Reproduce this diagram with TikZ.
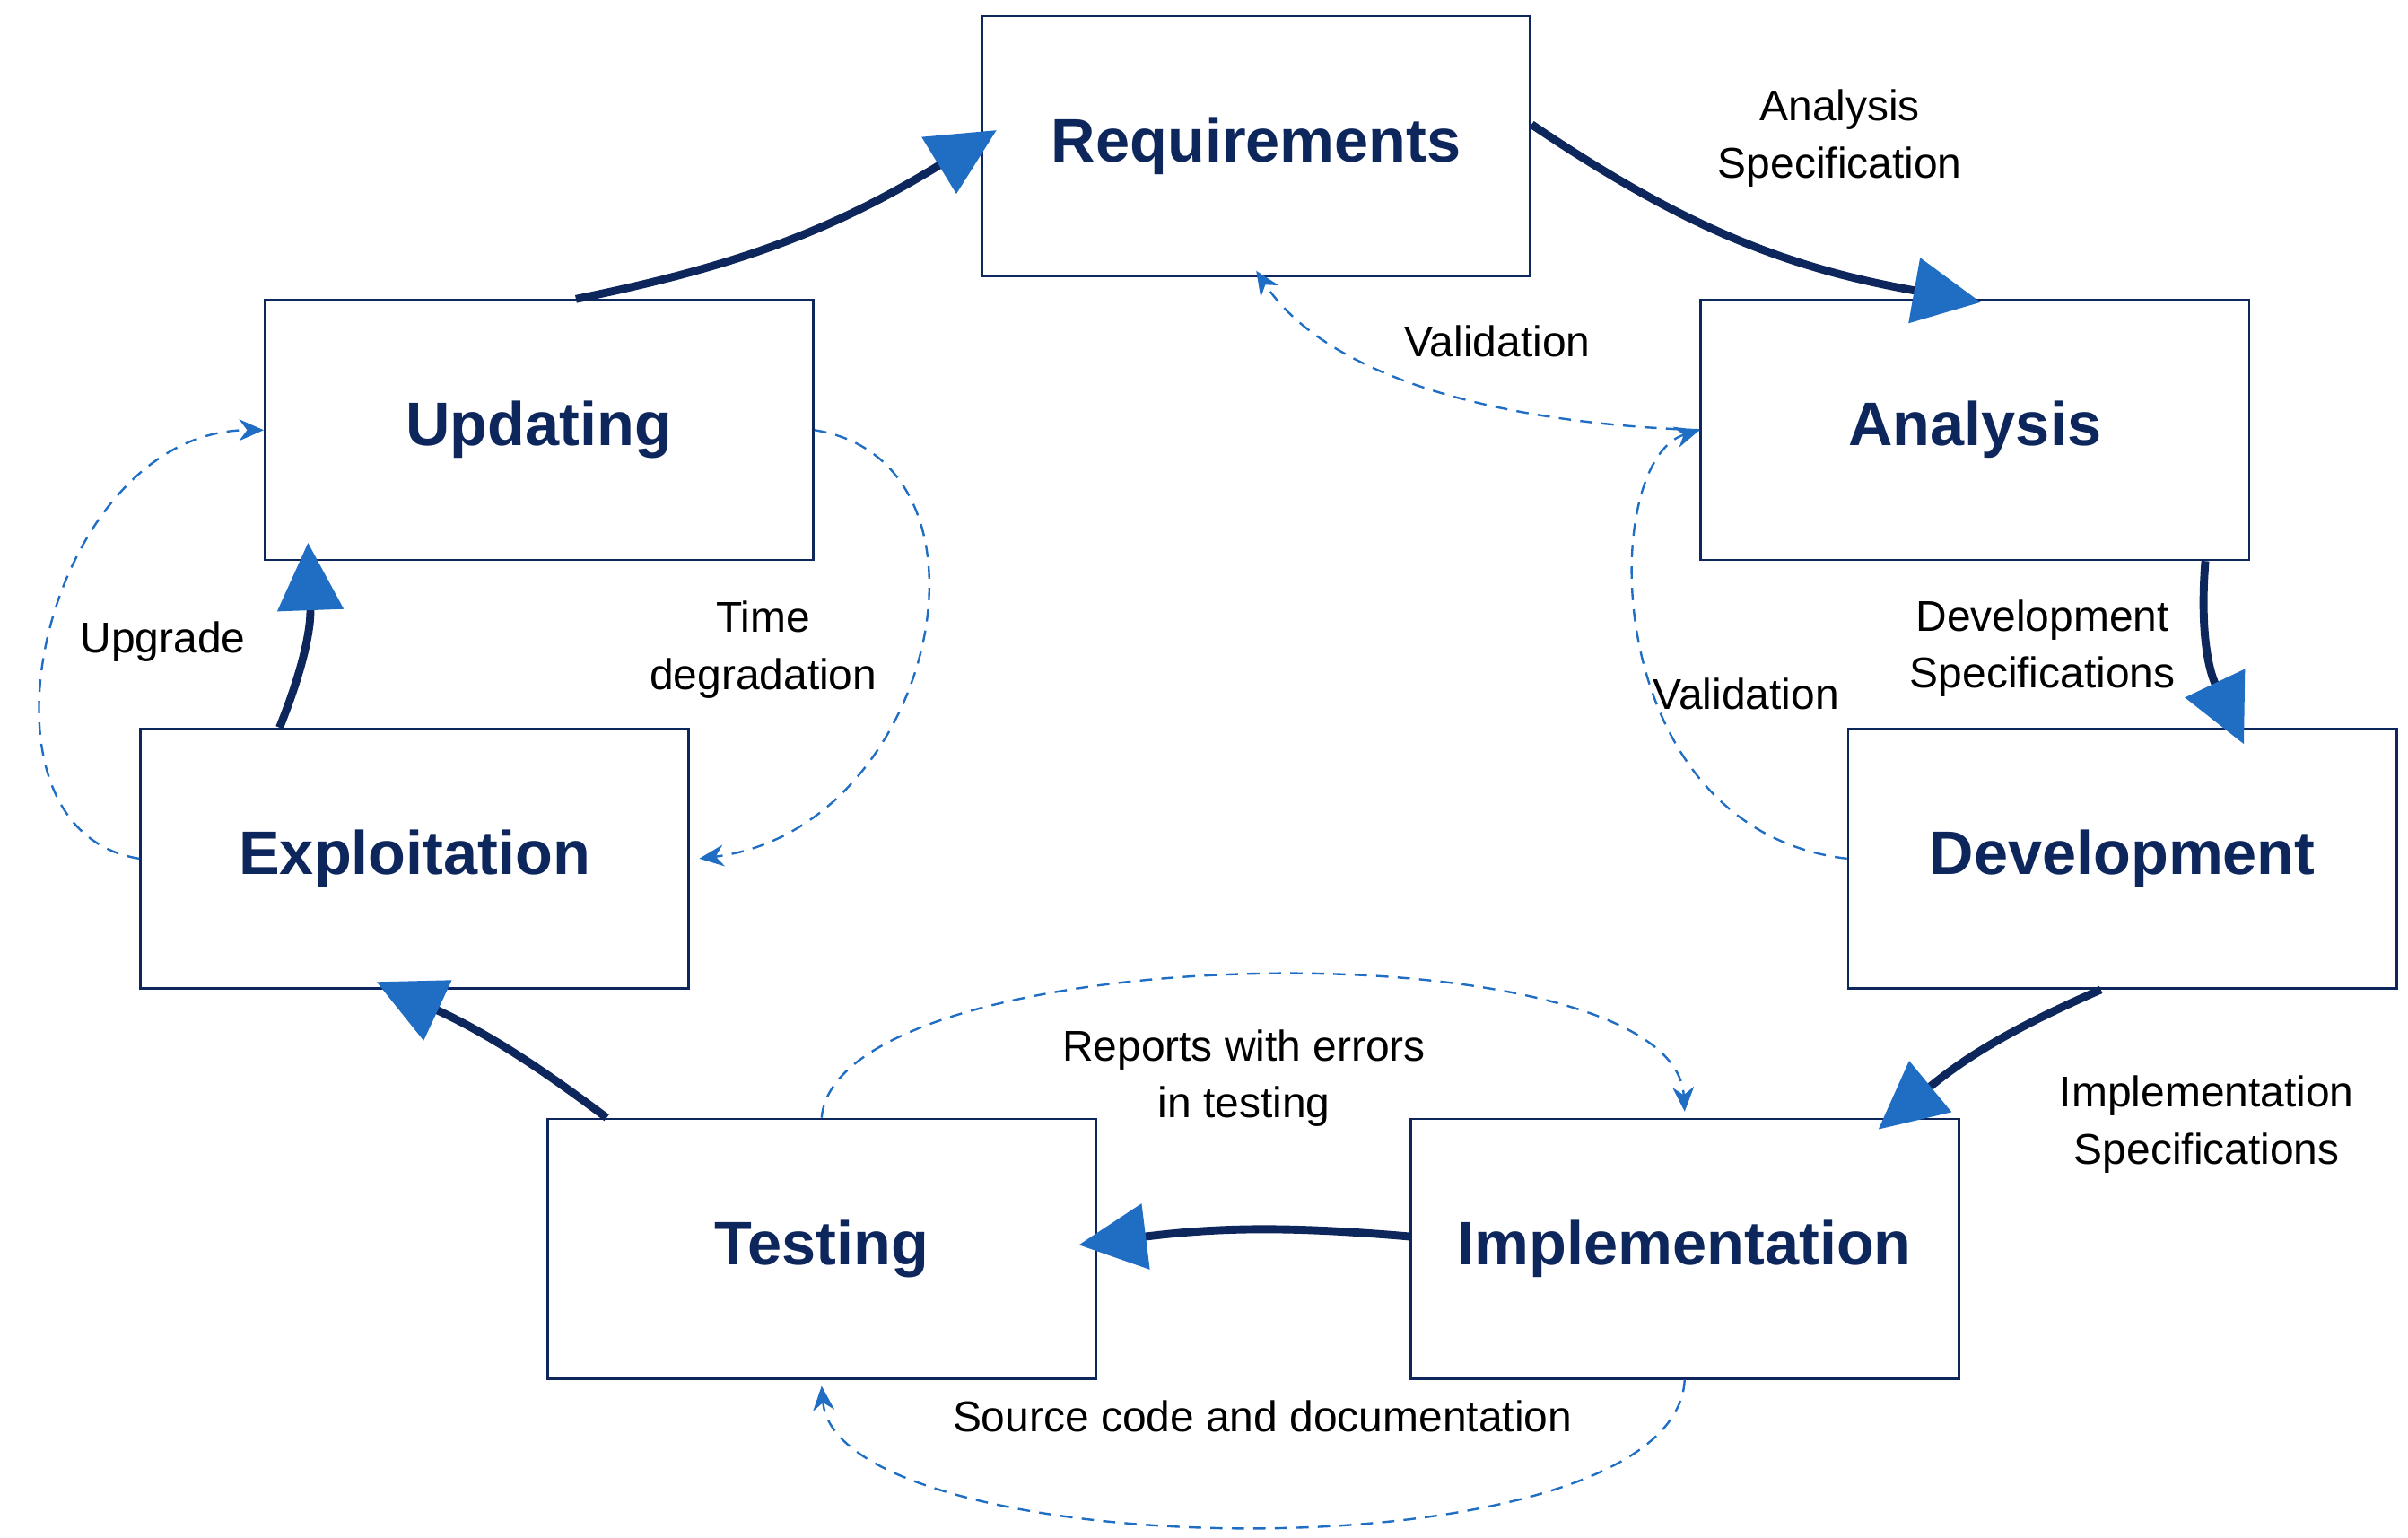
\documentclass[tikz,border=0pt]{standalone}
\usepackage{fontspec}
\setmainfont{Liberation Sans}
\usetikzlibrary{arrows.meta}
\definecolor{navy}{RGB}{13,38,92}
\definecolor{midblue}{RGB}{31,110,196}
\tikzset{
  phase/.style={draw=navy, line width=0.8pt, minimum width=178.5pt, minimum height=84.5pt, font=\fontsize{20}{24}\selectfont\bfseries, text=navy},
  flow/.style={draw=navy, line width=2.6pt, shorten >=-6pt, -{Triangle[length=22pt,width=21pt,fill=midblue,color=midblue]}},
  back/.style={draw=midblue, line width=0.7pt, dash pattern=on 4pt off 3pt, -{Stealth[length=8pt,width=7pt,fill=midblue]}},
  lbl/.style={font=\fontsize{14}{18.5}\selectfont, align=center, inner sep=1pt}
}
\begin{document}
\begin{tikzpicture}[x=0.5pt,y=0.5pt,yscale=-1]
\useasboundingbox (0,0) rectangle (1568,1001);

% phases
\node[phase] (req) at (818,95) {Requirements};
\node[phase] (ana) at (1286,280) {Analysis};
\node[phase] (dev) at (1382,559) {Development};
\node[phase] (imp) at (1097,813) {Implementation};
\node[phase] (tst) at (535,813) {Testing};
\node[phase] (exp) at (270,559) {Exploitation};
\node[phase] (upd) at (351,280) {Updating};

% main cycle
\draw[flow] ([yshift=-7pt]req.east) to[bend left=12] ([xshift=-4pt]ana.north);
\draw[flow] ([xshift=75pt]ana.south) to[bend left=15] ([xshift=37pt]dev.north);
\draw[flow] ([xshift=-7pt]dev.south) to[bend left=8] ([xshift=-22pt]imp.north east);
\draw[flow] ([yshift=-4pt]imp.west) to[bend left=6] ([yshift=-2pt]tst.east);
\draw[flow] ([xshift=-70pt]tst.north) to[bend left=6] ([xshift=-7pt]exp.south);
\draw[flow] ([xshift=-44pt]exp.north) to[bend left=12] ([xshift=-75pt]upd.south);
\draw[flow] ([xshift=12pt]upd.north) to[bend left=10] ([yshift=-2pt]req.west);

% feedback
\draw[back] (ana.west) .. controls (960,275) and (860,240) .. ([yshift=-2pt]req.south);
\draw[back] (dev.west) .. controls (1040,540) and (1040,300) .. (ana.west);
\draw[back] (upd.east) .. controls (660,300) and (610,540) .. ([xshift=3pt]exp.east);
\draw[back] (exp.west) .. controls (-30,540) and (30,280) .. (upd.west);
\draw[back] (tst.north) .. controls (545,610) and (1090,600) .. ([yshift=-2pt]imp.north);
\draw[back] (imp.south) .. controls (1090,1030) and (545,1020) .. ([yshift=2pt]tst.south);

% labels
\node[lbl] (l1) at (1198,90) {Analysis\\Specification};
\node[lbl] (l2) at (1330,422) {Development\\Specifications};
\node[lbl] (l3) at (1437,732) {Implementation\\Specifications};
\node[lbl] (l4) at (975,222) {Validation};
\node[lbl] (l5) at (1137,452) {Validation};
\node[lbl] (l6) at (497,423) {Time\\degradation};
\node[lbl] (l7) at (106,418) {Upgrade};
\node[lbl] (l8) at (810,702) {Reports with errors\\in testing};
\node[lbl] (l9) at (822,922) {Source code and documentation};
\end{tikzpicture}
\end{document}
